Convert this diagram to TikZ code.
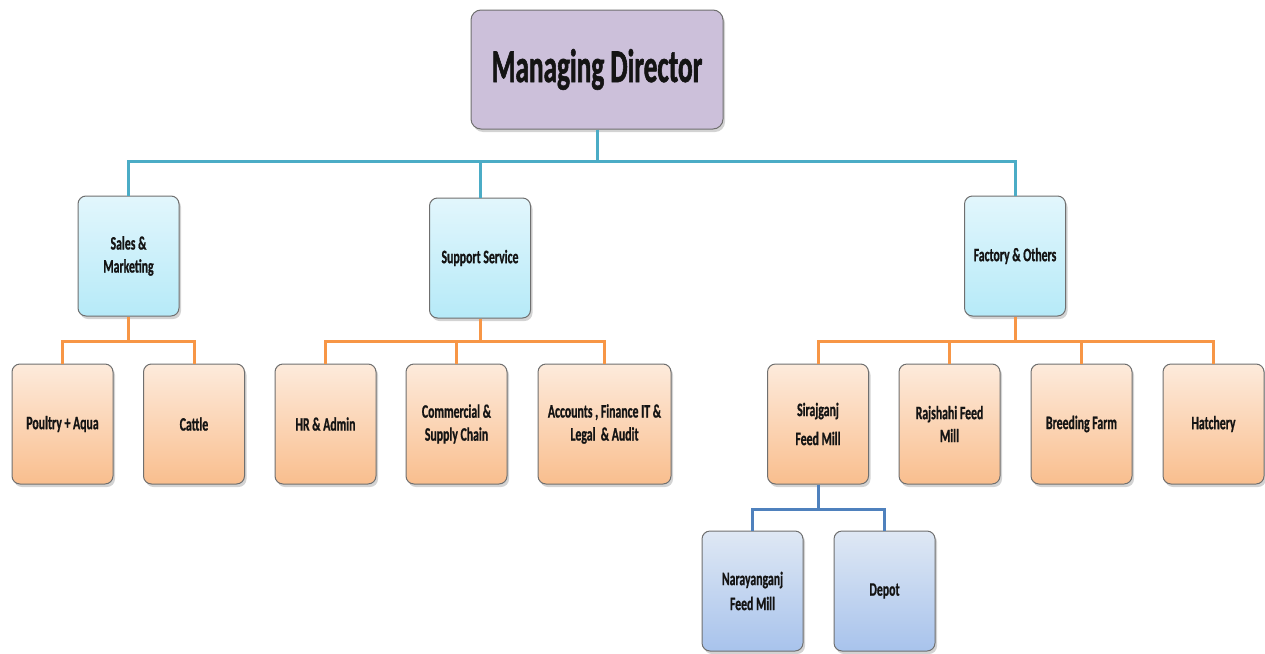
\documentclass[tikz,border=0pt]{standalone}
\usepackage{fontspec}
\setmainfont{Carlito}[FakeStretch=0.62,FakeBold=0.8]
\newfontfamily\mdfont{Carlito}[FakeStretch=0.58,FakeBold=1.2]
\usetikzlibrary{shadows,calc}
\definecolor{mdfill}{HTML}{CCC0DA}
\definecolor{cyantop}{HTML}{E2F6FC}
\definecolor{cyanbot}{HTML}{B6EAF8}
\definecolor{orgtop}{HTML}{FDEBDC}
\definecolor{orgbot}{HTML}{F9BE8E}
\definecolor{blutop}{HTML}{DFE8F4}
\definecolor{blubot}{HTML}{A8C3EC}
\definecolor{tealline}{HTML}{4BACC6}
\definecolor{orgline}{HTML}{F79646}
\definecolor{bluline}{HTML}{4F81BD}
\definecolor{edge}{HTML}{6F6F6F}
\tikzset{
  box/.style={draw=edge, line width=1pt, rounded corners=8pt, align=center,
    minimum width=101pt, minimum height=120pt, inner sep=2pt,
    font=\fontsize{19}{23}\selectfont\bfseries, text=black!92,
    drop shadow={shadow xshift=2pt, shadow yshift=-3pt, opacity=0.35}},
  mdbox/.style={box, fill=mdfill, minimum width=252pt, minimum height=119pt, rounded corners=10pt,
    font=\mdfont\fontsize{47}{56}\selectfont\bfseries},
  lvtwo/.style={box, top color=cyantop, bottom color=cyanbot},
  lvthree/.style={box, top color=orgtop, bottom color=orgbot},
  lvfour/.style={box, top color=blutop, bottom color=blubot},
  tline/.style={draw=tealline, line width=3pt},
  oline/.style={draw=orgline, line width=3pt},
  bline/.style={draw=bluline, line width=3pt},
}
\begin{document}
\begin{tikzpicture}[x=1pt,y=-1pt]
\useasboundingbox (0,0) rectangle (1265,653);
\node[mdbox] (md) at (597,69.5) {Managing Director};
\node[lvtwo] (sales) at (128.5,256) {Sales \&\\Marketing};
\node[lvtwo] (support) at (480,258) {Support Service};
\node[lvtwo] (factory) at (1015,256) {Factory \& Others};
\node[lvthree] (poultry) at (62.5,424) {Poultry + Aqua};
\node[lvthree] (cattle) at (194,424) {Cattle};
\node[lvthree] (hr) at (325.5,424) {HR \& Admin};
\node[lvthree] (comm) at (456.5,424) {Commercial \&\\Supply Chain};
\node[lvthree, minimum width=133pt] (acc) at (604.5,424) {Accounts , Finance IT \&\\Legal~~\& Audit};
\node[lvthree] (siraj) at (818,424) {Sirajganj\\[6pt]Feed Mill};
\node[lvthree] (rajs) at (949.5,424) {Rajshahi Feed\\Mill};
\node[lvthree] (breed) at (1081.5,424) {Breeding Farm};
\node[lvthree] (hatch) at (1213.5,424) {Hatchery};
\node[lvfour] (nara) at (752.5,591) {Narayanganj\\[2pt]Feed Mill};
\node[lvfour] (depot) at (884.5,591) {Depot};
\foreach \c in {sales,support,factory}
  \draw[tline] (md.south) -- ++(0,32) -| (\c.north);
\foreach \c in {poultry,cattle}
  \draw[oline] (sales.south) -- ++(0,25) -| (\c.north);
\foreach \c in {hr,comm,acc}
  \draw[oline] (support.south) -- ++(0,23) -| (\c.north);
\foreach \c in {siraj,rajs,breed,hatch}
  \draw[oline] (factory.south) -- ++(0,25) -| (\c.north);
\foreach \c in {nara,depot}
  \draw[bline] (siraj.south) -- ++(0,25) -| (\c.north);
\end{tikzpicture}
\end{document}
